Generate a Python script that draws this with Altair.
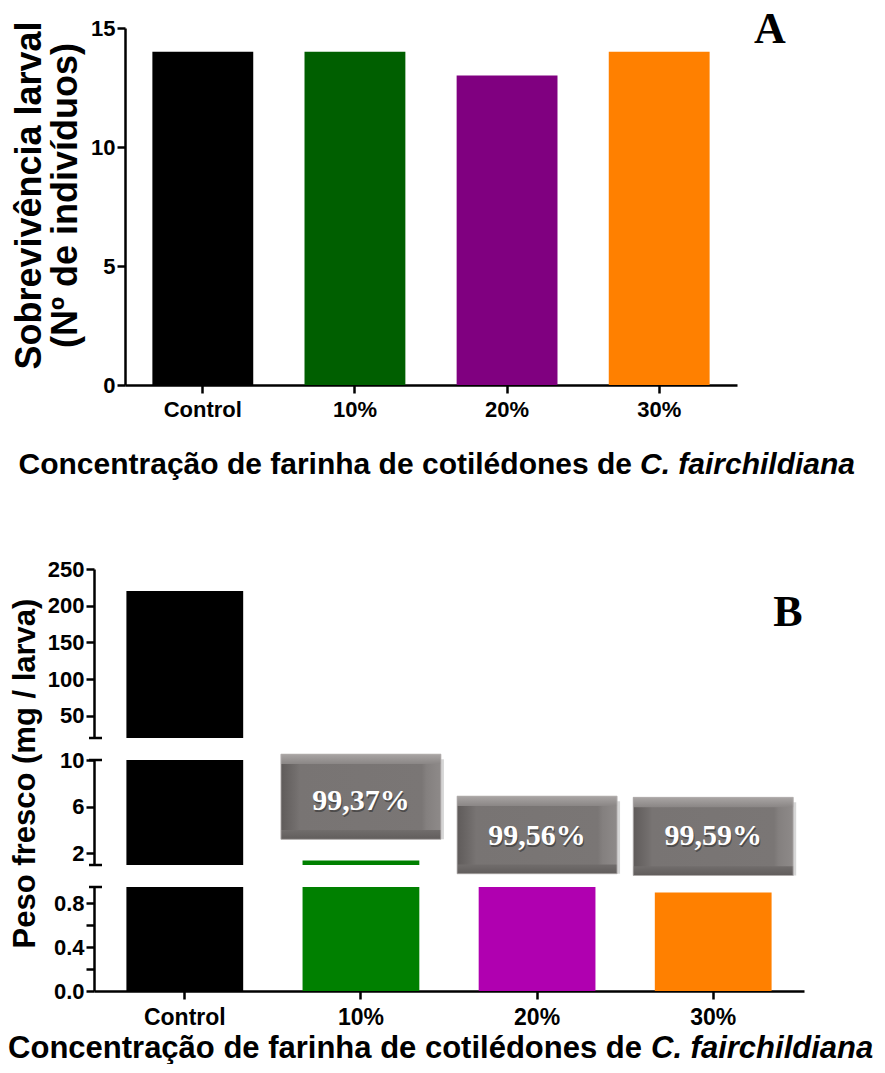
import altair as alt
import pandas as pd

# ---------------- data ----------------
categories = ["Control", "10%", "20%", "30%"]

# Panel A: larval survival (number of individuals)
survival = [14, 14, 13, 14]
survival_colors = ["#000000", "#005f00", "#800080", "#ff8000"]

# Panel B: fresh weight (mg / larva)
weight = [220, 1.39, 0.97, 0.90]
weight_colors = ["#000000", "#008000", "#b000b0", "#ff8000"]

# reduction annotations (10%, 20%, 30%)
reduction_cats = ["10%", "20%", "30%"]
reduction_labels = ["99,37%", "99,56%", "99,59%"]
box_top = [10.5, 6.9, 6.8]
box_bottom = [3.2, 0.25, 0.1]
box_text = [6.5, 3.5, 3.45]

# broken y axis segments of panel B
seg_top_domain = [20, 250]
seg_top_ticks = [50, 100, 150, 200, 250]
seg_mid_domain = [1, 10]
seg_mid_ticks = [2, 4, 6, 8, 10]
seg_bot_domain = [0, 0.95]
seg_bot_ticks = [0.0, 0.2, 0.4, 0.6, 0.8]

x_title_plain = "Concentração de farinha de cotilédones de"
x_title_italic = "C. fairchildiana"

FONT = "Liberation Sans, Arial, sans-serif"
SERIF = "Liberation Serif, Times New Roman, serif"

# ---------------- panel A ----------------
dfA = pd.DataFrame({"cat": categories, "v": survival, "color": survival_colors})
one = pd.DataFrame({"k": [0]})

A_W, A_H = 643, 357
xA = alt.X(
    "cat:N", sort=categories,
    scale=alt.Scale(range=[31, A_W], paddingInner=0.337, paddingOuter=0.18),
    axis=alt.Axis(title=None, labelAngle=0, labelFontSize=22, labelFontWeight="bold",
                  labelPadding=6, tickSize=8),
)
yA = alt.Y(
    "v:Q", scale=alt.Scale(domain=[0, 15], nice=False),
    axis=alt.Axis(values=[0, 5, 10, 15], offset=-31, labelFontSize=22,
                  labelFontWeight="bold", labelPadding=2, tickSize=8,
                  title=["Sobrevivência larval", "(Nº de indivíduos)"],
                  titleFontSize=36, titleFontWeight="bold", titleLineHeight=36,
                  titleAngle=270, titleBaseline="bottom", titleAlign="center",
                  titleX=-77, titleY=167),
)
barsA = alt.Chart(dfA).mark_bar().encode(x=xA, y=yA, color=alt.Color("color:N", scale=None))

labelA = alt.Chart(one).mark_text(font=SERIF, fontWeight="bold", fontSize=44,
                                  align="center", baseline="alphabetic").encode(
    x=alt.value(676), y=alt.value(15), text=alt.value("A"))
titleA1 = alt.Chart(one).mark_text(font=FONT, fontWeight="bold", fontSize=30,
                                   align="right", baseline="middle").encode(
    x=alt.value(538), y=alt.value(A_H + 80), text=alt.value(x_title_plain))
titleA2 = alt.Chart(one).mark_text(font=FONT, fontWeight="bold", fontStyle="italic",
                                   fontSize=30, align="left", baseline="middle").encode(
    x=alt.value(546), y=alt.value(A_H + 80), text=alt.value(x_title_italic))

panelA = alt.layer(barsA, labelA, titleA1, titleA2).properties(width=A_W, height=A_H)

spacer = alt.Chart(one).mark_point(opacity=0).encode(
    x=alt.X("k:Q", axis=None), y=alt.Y("k:Q", axis=None)).properties(width=10, height=140)

# ---------------- panel B ----------------
dfB = pd.DataFrame({"cat": categories, "v": weight, "color": weight_colors})
dfBox = pd.DataFrame({"cat": reduction_cats, "label": reduction_labels,
                      "top": box_top, "bottom": box_bottom, "ty": box_text})

B_W = 710


def b_x(show):
    ax = alt.Axis(title=None, labelAngle=0, labelFontSize=23, labelFontWeight="bold",
                  labelPadding=7, tickSize=8) if show else None
    return alt.X("cat:N", sort=categories,
                 scale=alt.Scale(paddingInner=0.337, paddingOuter=0.184), axis=ax)


def b_y(domain, ticks, fmt, title=None):
    kw = dict(values=ticks, format=fmt, labelFontSize=22, labelFontWeight="bold",
              labelPadding=2, tickSize=8)
    if title:
        kw.update(title=title, titleFontSize=31, titleFontWeight="bold", titleAngle=270,
                  titleBaseline="bottom", titleAlign="center", titleX=-53, titleY=13)
    else:
        kw.update(title=None)
    return alt.Y("v:Q", scale=alt.Scale(domain=domain, nice=False, zero=False), axis=alt.Axis(**kw))


def caps(h, top, bottom):
    layers = []
    if top:
        layers.append(alt.Chart(one).mark_rule(color="black", strokeWidth=2.5).encode(
            x=alt.value(-5), x2=alt.value(8), y=alt.value(0)))
    if bottom:
        layers.append(alt.Chart(one).mark_rule(color="black", strokeWidth=2.5).encode(
            x=alt.value(-5), x2=alt.value(8), y=alt.value(h)))
    return layers


H_TOP, H_MID, H_BOT = 169, 105, 104

barsTop = alt.Chart(dfB).mark_bar(clip=True).encode(
    x=b_x(False), y=b_y(seg_top_domain, seg_top_ticks, "d"),
    color=alt.Color("color:N", scale=None))
labelB = alt.Chart(one).mark_text(font=SERIF, fontWeight="bold", fontSize=44,
                                  align="center", baseline="alphabetic").encode(
    x=alt.value(694), y=alt.value(57), text=alt.value("B"))
segTop = alt.layer(barsTop, labelB, *caps(H_TOP, False, True)).properties(width=B_W, height=H_TOP)

barsMid = alt.Chart(dfB).mark_bar(clip=True).encode(
    x=b_x(False), y=b_y(seg_mid_domain, seg_mid_ticks, "d", "Peso fresco (mg / larva)"),
    color=alt.Color("color:N", scale=None))

side_grad = alt.LinearGradient(
    gradient="linear", x1=0, x2=1, y1=0, y2=0,
    stops=[alt.GradientStop(color="#5f5b5a", offset=0),
           alt.GradientStop(color="#716d6c", offset=0.09),
           alt.GradientStop(color="#787473", offset=0.12),
           alt.GradientStop(color="#7a7675", offset=0.88),
           alt.GradientStop(color="#84807f", offset=0.91),
           alt.GradientStop(color="#8e8a89", offset=1)])
top_grad = alt.LinearGradient(
    gradient="linear", x1=0, x2=0, y1=0, y2=1,
    stops=[alt.GradientStop(color="#a9a5a4", offset=0),
           alt.GradientStop(color="#8a8685", offset=1)])
bottom_grad = alt.LinearGradient(
    gradient="linear", x1=0, x2=0, y1=0, y2=1,
    stops=[alt.GradientStop(color="#716d6c", offset=0),
           alt.GradientStop(color="#615d5c", offset=1)])

boxShadow = alt.Chart(dfBox).mark_bar(width=162, color="#000000", opacity=0.16,
                                      yOffset=5, xOffset=2).encode(
    x=b_x(False), y=alt.Y("top:Q"), y2="bottom:Q")
boxOuter = alt.Chart(dfBox).mark_bar(width=160, fill=side_grad).encode(
    x=b_x(False), y=alt.Y("top:Q"), y2="bottom:Q")
boxTopBand = alt.Chart(dfBox).transform_calculate(band_end="datum.top - 0.85").mark_bar(
    width=160, fill=top_grad).encode(
    x=b_x(False), y=alt.Y("top:Q"), y2="band_end:Q")
boxBottomBand = alt.Chart(dfBox).transform_calculate(band_start="datum.bottom + 0.8").mark_bar(
    width=160, fill=bottom_grad).encode(
    x=b_x(False), y=alt.Y("band_start:Q"), y2="bottom:Q")
boxFrame = alt.Chart(dfBox).mark_bar(width=160, fillOpacity=0, stroke="#b8b4b3",
                                     strokeWidth=0.8).encode(
    x=b_x(False), y=alt.Y("top:Q"), y2="bottom:Q")
boxTextShadow = alt.Chart(dfBox).mark_text(font=SERIF, fontWeight="bold", fontSize=30,
                                           color="#2a2a2a", opacity=0.55, dx=1, dy=2,
                                           baseline="middle").encode(
    x=b_x(False), y=alt.Y("ty:Q"), text="label:N")
boxText = alt.Chart(dfBox).mark_text(font=SERIF, fontWeight="bold", fontSize=30,
                                     color="#ffffff", baseline="middle").encode(
    x=b_x(False), y=alt.Y("ty:Q"), text="label:N")

segMid = alt.layer(barsMid, boxShadow, boxOuter, boxTopBand, boxBottomBand, boxFrame,
                   boxTextShadow, boxText,
                   *caps(H_MID, True, True)).properties(width=B_W, height=H_MID)

barsBot = alt.Chart(dfB).mark_bar(clip=True).encode(
    x=b_x(True), y=b_y(seg_bot_domain, seg_bot_ticks, ".1f"),
    color=alt.Color("color:N", scale=None))
titleB1 = alt.Chart(one).mark_text(font=FONT, fontWeight="bold", fontSize=31,
                                   align="right", baseline="middle").encode(
    x=alt.value(548), y=alt.value(H_BOT + 58), text=alt.value(x_title_plain))
titleB2 = alt.Chart(one).mark_text(font=FONT, fontWeight="bold", fontStyle="italic",
                                   fontSize=31, align="left", baseline="middle").encode(
    x=alt.value(557), y=alt.value(H_BOT + 58), text=alt.value(x_title_italic))
segBot = alt.layer(barsBot, titleB1, titleB2, *caps(H_BOT, True, False)).properties(
    width=B_W, height=H_BOT)

chart = alt.vconcat(panelA, spacer, segTop, segMid, segBot, spacing=22, bounds="flush").properties(
    padding=0
).configure_view(stroke=None).configure_axis(
    domainColor="black", domainWidth=2.5, tickColor="black", tickWidth=2.5,
    labelColor="black", titleColor="black", labelFont=FONT,
    titleFont=FONT, grid=False
).configure_text(font=FONT)

chart.save("out.html", embed_options={"renderer": "svg", "actions": False})
